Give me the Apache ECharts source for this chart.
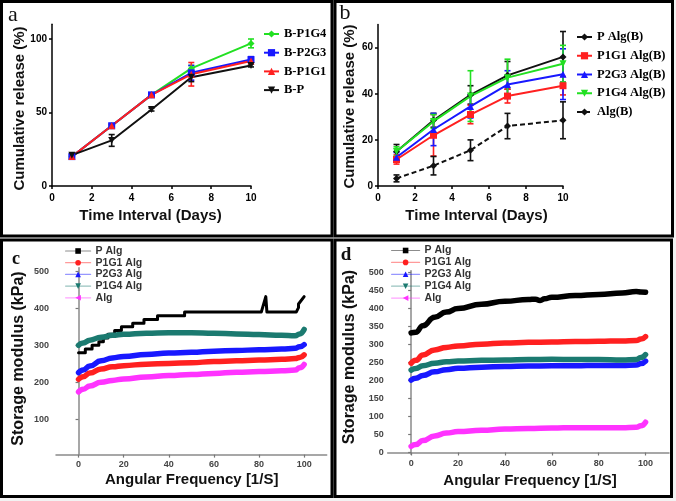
<!DOCTYPE html>
<html><head><meta charset="utf-8">
<script src="https://cdn.jsdelivr.net/npm/echarts@6/dist/echarts.min.js"></script>
<style>html,body{margin:0;padding:0;background:#f2f2f2}#c{width:676px;height:501px}</style>
</head><body><div id="c"></div>
<script>
// ---------- Panel a : cumulative release ----------
const daysA = [1, 3, 5, 7, 10];
const aP1G4 = [20, 41, 62, 80, 97];
const aP1G4Err = [1, 1, 1, 2, 3];
const aP2G3 = [20, 41, 62, 77, 86];
const aP2G3Err = [1, 1, 1, 5, 2];
const aP1G1 = [20, 41, 62, 76, 85];
const aP1G1Err = [1, 1, 1, 8, 1];
const aP = [21, 31, 52, 74, 82];
const aPErr = [1, 4, 1, 3, 1];
const aYTicks = [0, 50, 100];

// ---------- Panel b : cumulative release ----------
const daysB = [1, 3, 5, 7, 10];
const bPAlg = [15, 28.5, 39.5, 48, 56];
const bPAlgErr = [3, 3, 4, 6, 11];
const bP1G1 = [11.5, 22, 31, 39, 43.5];
const bP1G1Err = [2, 9, 4, 3, 4];
const bP2G3 = [12.5, 24.5, 34.5, 44, 48.5];
const bP2G3Err = [2, 7, 5, 6, 11];
const bP1G4 = [15, 28, 39, 47, 53];
const bP1G4Err = [2, 3, 11, 8, 8];
const bAlg = [3.3, 8.8, 15.5, 26, 28.5];
const bAlgErr = [1.5, 4, 4.5, 5.5, 8];
const bYTicks = [0, 20, 40, 60];

// ---------- Panel c : storage modulus ----------
const freqC = [0, 2, 5, 10, 15, 20, 30, 40, 50, 60, 70, 80, 90, 96, 98, 100];
const cP1G1 = [208, 215, 225, 236, 242, 245, 249, 251, 253, 256, 258, 260, 262, 264, 267, 274];
const cP2G3 = [226, 233, 244, 258, 266, 270, 275, 279, 281, 284, 286, 288, 290, 292, 296, 302];
const cP1G4 = [300, 306, 314, 322, 327, 330, 333, 334, 334, 333, 331, 329, 327, 326, 331, 343];
const cAlg  = [174, 181, 190, 200, 205, 209, 214, 218, 221, 224, 227, 229, 231, 233, 239, 248];
const cPAlgX = [0, 3, 3, 6, 6, 9, 9, 11, 11, 13, 13, 16, 16, 19, 19, 24, 24, 29, 29, 35, 35, 47, 47, 81, 83, 83.5, 96.5, 97.5, 97.5, 100];
const cPAlgY = [280, 280, 290, 290, 300, 300, 310, 310, 320, 320, 330, 330, 340, 340, 350, 350, 360, 360, 370, 370, 380, 380, 390, 390, 432, 390, 390, 402, 412, 432];
const cYTicks = [100, 200, 300, 400, 500];
const freqTicks = [0, 20, 40, 60, 80, 100];

// ---------- Panel d : storage modulus ----------
const freqD = [0, 2, 5, 10, 15, 20, 30, 40, 50, 60, 70, 80, 90, 96, 98, 100];
const dP1G1 = [248, 256, 271, 285, 292, 296, 301, 304, 306, 307, 308, 309, 310, 311, 315, 322];
const dP2G3 = [201, 206, 214, 224, 230, 234, 237, 239, 240, 241, 241, 242, 242, 243, 247, 254];
const dP1G4 = [229, 233, 241, 248, 252, 254, 256, 257, 258, 259, 258, 258, 257, 258, 264, 272];
const dAlg  = [17, 22, 33, 46, 54, 58, 62, 65, 67, 68, 69, 69, 69, 70, 74, 84];
const dPAlgX = [0, 2, 5, 10, 15, 20, 30, 40, 50, 53, 55, 57, 60, 70, 80, 90, 96, 98, 100];
const dPAlgY = [332, 334, 352, 376, 390, 400, 412, 420, 425, 426, 422, 427, 431, 436, 439, 443, 447, 446, 445];
const dYTicks = [0, 50, 100, 150, 200, 250, 300, 350, 400, 450, 500];

const SANS = '"Liberation Sans", Arial, sans-serif';
const SERIF = '"Liberation Serif", "Times New Roman", serif';
const GREEN = '#22e022', BLUE = '#1818ff', RED = '#ff2020', BLACK = '#111111';
const TEAL = '#1b7a70', MAG = '#ff33ff';

function pairs(xs, ys) { return xs.map((x, i) => [x, ys[i]]); }
function errData(xs, ys, es) { return xs.map((x, i) => [x, ys[i] - es[i], ys[i] + es[i]]); }

function errSeries(idx, xs, ys, es, color) {
  return {
    type: 'custom', xAxisIndex: idx, yAxisIndex: idx, silent: true,
    data: errData(xs, ys, es), encode: { x: 0, y: [1, 2] },
    renderItem: function (params, api) {
      const x = api.value(0);
      const p1 = api.coord([x, api.value(2)]);
      const p2 = api.coord([x, api.value(1)]);
      const w = 3, st = { stroke: color, lineWidth: 1.6 };
      return { type: 'group', children: [
        { type: 'line', shape: { x1: p1[0], y1: p1[1], x2: p2[0], y2: p2[1] }, style: st },
        { type: 'line', shape: { x1: p1[0] - w, y1: p1[1], x2: p1[0] + w, y2: p1[1] }, style: st },
        { type: 'line', shape: { x1: p2[0] - w, y1: p2[1], x2: p2[0] + w, y2: p2[1] }, style: st }
      ] };
    }
  };
}
function relSeries(idx, name, xs, ys, color, symbol, rot, dashed) {
  return {
    type: 'line', name: name, xAxisIndex: idx, yAxisIndex: idx, data: pairs(xs, ys),
    symbol: symbol, symbolRotate: rot || 0, symbolSize: 7, color: color,
    itemStyle: { color: color },
    lineStyle: { width: 2, color: color, type: dashed ? [5, 3] : 'solid' }
  };
}
function modSeries(idx, name, xs, ys, color, symbol, rot, width, smooth) {
  return {
    type: 'line', name: name, xAxisIndex: idx, yAxisIndex: idx, data: pairs(xs, ys),
    symbol: symbol, symbolRotate: rot || 0, symbolSize: 6, showSymbol: false,
    smooth: smooth, smoothMonotone: 'x', color: color, itemStyle: { color: color },
    lineStyle: { width: width, color: color, cap: 'round', join: 'round' }
  };
}

function relAxisX(idx) {
  return {
    gridIndex: idx, type: 'value', min: 0, max: 10, interval: 2,
    axisLine: { lineStyle: { color: '#000', width: 1.5 } },
    axisTick: { length: 3, lineStyle: { color: '#000', width: 1.5 } },
    axisLabel: { fontFamily: SANS, fontWeight: 'bold', fontSize: 10, color: '#000', margin: 7 },
    splitLine: { show: false }
  };
}
function relAxisY(idx, max, ticks) {
  return {
    gridIndex: idx, type: 'value', min: 0, max: max,
    axisLine: { show: true, lineStyle: { color: '#000', width: 1.5 } },
    axisTick: { show: true, length: 3, customValues: ticks, lineStyle: { color: '#000', width: 1.5 } },
    axisLabel: { customValues: ticks, fontFamily: SANS, fontWeight: 'bold', fontSize: 10, color: '#000', margin: 5 },
    splitLine: { show: false }
  };
}
function modAxisX(idx) {
  return {
    gridIndex: idx, type: 'value', min: -10, max: 110,
    axisLine: { lineStyle: { color: '#8a8a8a', width: 1.5 } },
    axisTick: { length: 3, customValues: freqTicks, lineStyle: { color: '#777', width: 1.2 } },
    axisLabel: { customValues: freqTicks, fontFamily: SANS, fontWeight: 'bold', fontSize: 9, color: '#444', margin: 5 },
    splitLine: { show: false }
  };
}
function modAxisY(idx, min, max, ticks, margin) {
  return {
    gridIndex: idx, type: 'value', min: min, max: max,
    axisLine: { show: true, lineStyle: { color: '#8a8a8a', width: 1.5 } },
    axisTick: { show: true, length: 3, customValues: ticks, lineStyle: { color: '#777', width: 1.2 } },
    axisLabel: { customValues: ticks, fontFamily: SANS, fontWeight: 'bold', fontSize: 9, color: '#444', margin: margin },
    splitLine: { show: false }
  };
}

function txt(x, y, text, font, rot, fill) {
  return { type: 'text', x: x, y: y, rotation: rot || 0, z: 10,
    style: { text: text, font: font, fill: fill || '#111', align: 'center', verticalAlign: 'middle' } };
}
function box(x, y, w, h) {
  return { type: 'rect', z: -1, shape: { x: x, y: y, width: w, height: h },
    style: { fill: '#ffffff', stroke: '#000', lineWidth: 3 } };
}

const chart = echarts.init(document.getElementById('c'), null, { renderer: 'canvas' });
chart.setOption({
  animation: false,
  backgroundColor: '#f2f2f2',
  grid: [
    { left: 52, top: 24.3, width: 199, height: 161.7 },
    { left: 378, top: 24.6, width: 185, height: 161.4 },
    { left: 56, top: 267.8, width: 270.7, height: 186.8 },
    { left: 387.7, top: 270.7, width: 281.3, height: 183.6 }
  ],
  xAxis: [relAxisX(0), relAxisX(1), modAxisX(2), modAxisX(3)],
  yAxis: [
    relAxisY(0, 110, aYTicks),
    relAxisY(1, 70, bYTicks),
    modAxisY(2, 4, 510, cYTicks, 7),
    modAxisY(3, -5, 505, dYTicks, 4)
  ],
  legend: [
    { left: 263, top: 27.5, padding: 0, orient: 'vertical', itemWidth: 15, itemHeight: 9, itemGap: 5.7,
      textStyle: { fontFamily: SERIF, fontWeight: 'bold', fontSize: 12.5, lineHeight: 13, color: '#000' },
      data: ['B-P1G4', 'B-P2G3', 'B-P1G1', 'B-P'] },
    { left: 576, top: 30.5, padding: 0, orient: 'vertical', itemWidth: 15, itemHeight: 9, itemGap: 5.75,
      textStyle: { fontFamily: SERIF, fontWeight: 'bold', fontSize: 12.5, lineHeight: 13, color: '#000' },
      data: ['P Alg(B)', 'P1G1 Alg(B)', 'P2G3 Alg(B)', 'P1G4 Alg(B)', 'Alg(B)'] },
    { left: 65, top: 245.5, padding: 0, orient: 'vertical', itemWidth: 25, itemHeight: 7, itemGap: 0.7,
      lineStyle: { width: 1.2, opacity: 0.45 },
      textStyle: { fontFamily: SANS, fontWeight: 'bold', fontSize: 10.5, lineHeight: 10, color: '#333' },
      data: ['P Alg', 'P1G1 Alg', 'P2G3 Alg', 'P1G4 Alg', 'Alg'] },
    { left: 391, top: 245, padding: 0, orient: 'vertical', itemWidth: 28, itemHeight: 7, itemGap: 0.9,
      lineStyle: { width: 1.2, opacity: 0.45 },
      textStyle: { fontFamily: SANS, fontWeight: 'bold', fontSize: 10.5, lineHeight: 10, color: '#333' },
      data: ['P Alg', 'P1G1 Alg', 'P2G3 Alg', 'P1G4 Alg', 'Alg'] }
  ],
  series: [
    // panel a
    errSeries(0, daysA, aP1G4, aP1G4Err, GREEN),
    relSeries(0, 'B-P1G4', daysA, aP1G4, GREEN, 'diamond'),
    errSeries(0, daysA, aP2G3, aP2G3Err, BLUE),
    relSeries(0, 'B-P2G3', daysA, aP2G3, BLUE, 'rect'),
    errSeries(0, daysA, aP1G1, aP1G1Err, RED),
    relSeries(0, 'B-P1G1', daysA, aP1G1, RED, 'triangle'),
    errSeries(0, daysA, aP, aPErr, BLACK),
    relSeries(0, 'B-P', daysA, aP, BLACK, 'triangle', 180),
    // panel b
    errSeries(1, daysB, bPAlg, bPAlgErr, BLACK),
    relSeries(1, 'P Alg(B)', daysB, bPAlg, BLACK, 'diamond'),
    errSeries(1, daysB, bP1G1, bP1G1Err, RED),
    relSeries(1, 'P1G1 Alg(B)', daysB, bP1G1, RED, 'rect'),
    errSeries(1, daysB, bP2G3, bP2G3Err, BLUE),
    relSeries(1, 'P2G3 Alg(B)', daysB, bP2G3, BLUE, 'triangle'),
    errSeries(1, daysB, bP1G4, bP1G4Err, GREEN),
    relSeries(1, 'P1G4 Alg(B)', daysB, bP1G4, GREEN, 'triangle', 180),
    errSeries(1, daysB, bAlg, bAlgErr, BLACK),
    relSeries(1, 'Alg(B)', daysB, bAlg, BLACK, 'diamond', 0, true),
    // panel c
    modSeries(2, 'P Alg', cPAlgX, cPAlgY, '#000', 'rect', 0, 3, false),
    modSeries(2, 'P1G1 Alg', freqC, cP1G1, RED, 'circle', 0, 5.5, true),
    modSeries(2, 'P2G3 Alg', freqC, cP2G3, BLUE, 'triangle', 0, 5.5, true),
    modSeries(2, 'P1G4 Alg', freqC, cP1G4, TEAL, 'triangle', 180, 5.5, true),
    modSeries(2, 'Alg', freqC, cAlg, MAG, 'triangle', 90, 5.5, true),
    // panel d
    modSeries(3, 'P Alg', dPAlgX, dPAlgY, '#000', 'rect', 0, 5.5, true),
    modSeries(3, 'P1G1 Alg', freqD, dP1G1, RED, 'circle', 0, 5.5, true),
    modSeries(3, 'P2G3 Alg', freqD, dP2G3, BLUE, 'triangle', 0, 5.5, true),
    modSeries(3, 'P1G4 Alg', freqD, dP1G4, TEAL, 'triangle', 180, 5.5, true),
    modSeries(3, 'Alg', freqD, dAlg, MAG, 'triangle', 90, 5.5, true)
  ],
  graphic: [
    box(1.5, 1.5, 330.5, 234.5),
    box(335, 1.5, 337.5, 234.5),
    box(1.5, 240, 330.5, 256.5),
    box(335, 240, 336.5, 256.5),
    txt(13, 15, 'a', '22px ' + SERIF),
    txt(345, 13, 'b', '22px ' + SERIF),
    txt(16, 259, 'c', 'bold 18px ' + SERIF),
    txt(346, 255, 'd', 'bold 19px ' + SERIF),
    txt(150.5, 216, 'Time Interval (Days)', 'bold 15px ' + SANS),
    txt(476.5, 216, 'Time Interval (Days)', 'bold 15px ' + SANS),
    txt(19.5, 108.5, 'Cumulative release (%)', 'bold 15px ' + SANS, Math.PI / 2),
    txt(350, 106.5, 'Cumulative release (%)', 'bold 15px ' + SANS, Math.PI / 2),
    txt(191.7, 479.5, 'Angular Frequency [1/S]', 'bold 15px ' + SANS),
    txt(530, 481, 'Angular Frequency [1/S]', 'bold 15px ' + SANS),
    txt(18.3, 358.5, 'Storage modulus (kPa)', 'bold 16px ' + SANS, Math.PI / 2),
    txt(349.3, 357, 'Storage modulus (kPa)', 'bold 16px ' + SANS, Math.PI / 2)
  ]
});
</script>
</body></html>
